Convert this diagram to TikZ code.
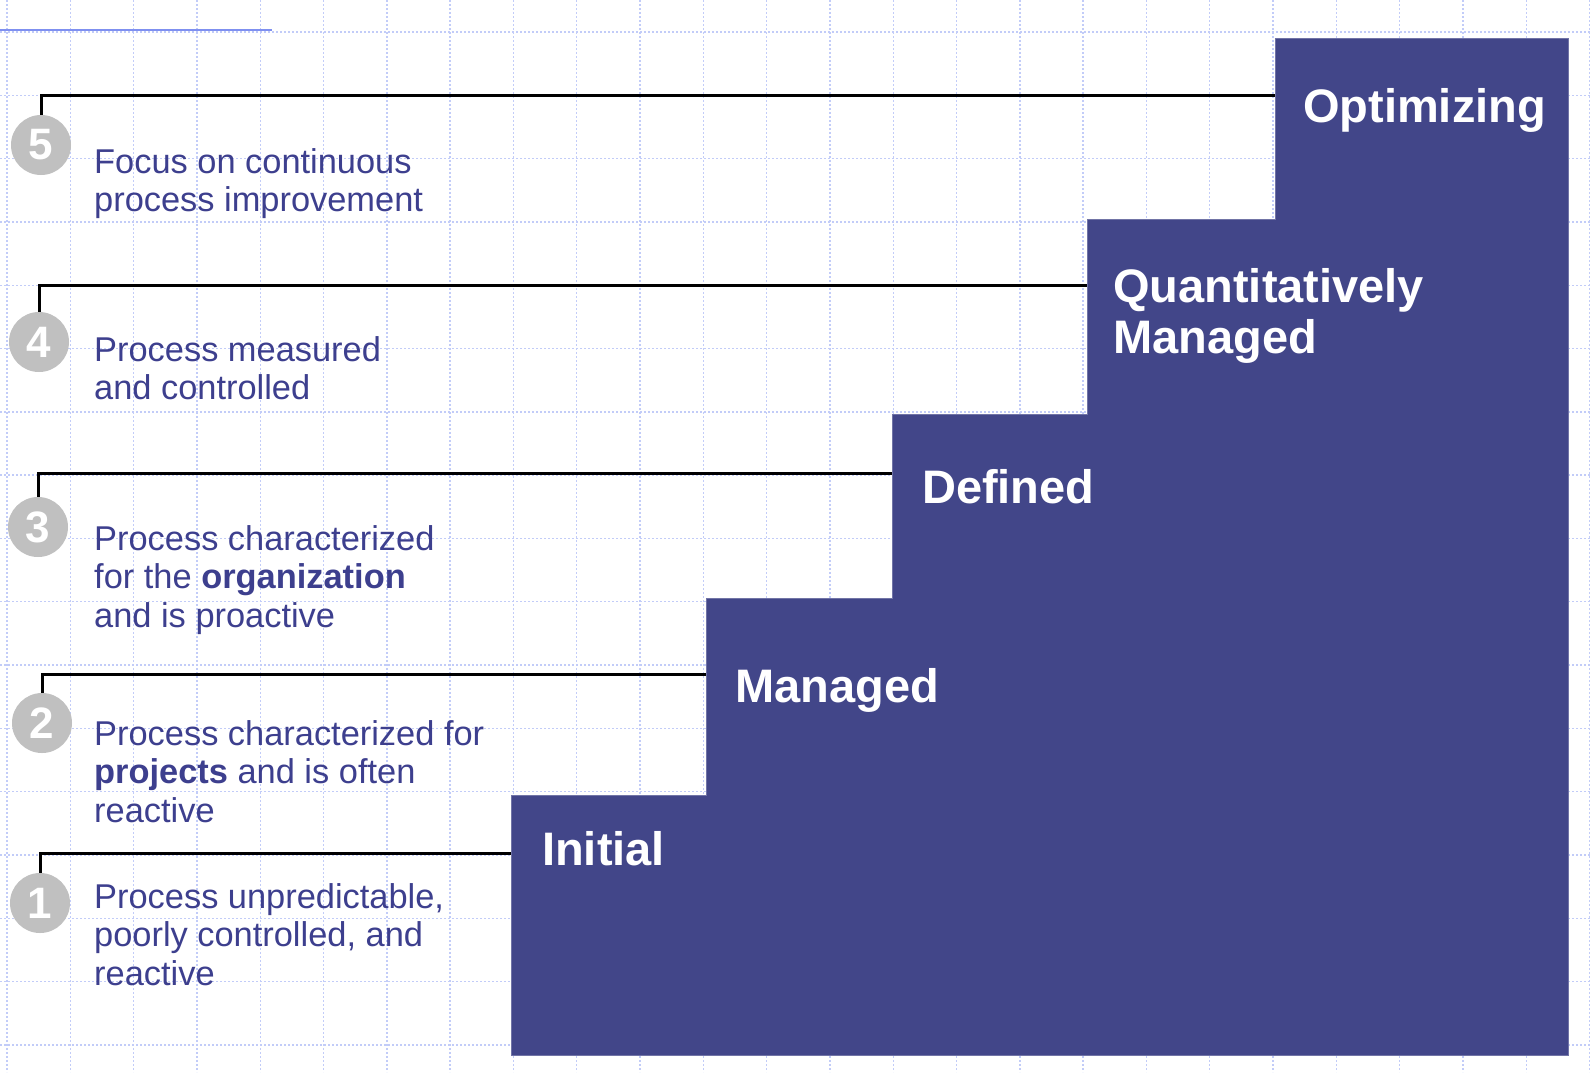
\documentclass[tikz,border=0pt]{standalone}
\usepackage{fontspec}
\setmainfont{Liberation Sans}
\definecolor{stepblue}{HTML}{424689}
\definecolor{textblue}{HTML}{3D3F8E}
\definecolor{gridblue}{HTML}{C2CCF8}
\definecolor{topline}{HTML}{7F90F0}
\definecolor{circgray}{HTML}{C0C0C0}
\tikzset{
  gridline/.style={draw=gridblue, line width=1.4pt, dash pattern=on 2pt off 2pt},
  connector/.style={draw=black, line width=3pt},
  numcircle/.style={circle, fill=circgray, minimum size=60pt, inner sep=0pt,
    text=white, font=\fontsize{44}{44}\selectfont\bfseries},
  desc/.style={anchor=base west, inner sep=0pt, text=textblue},
  steplabel/.style={anchor=base west, inner sep=0pt, text=white,
    font=\fontsize{47}{51}\selectfont\bfseries},
}
\newcommand{\desctext}[1]{\parbox[t]{440pt}{\raggedright\fontsize{34.4}{38.5}\selectfont #1}}
\begin{document}
\begin{tikzpicture}[x=1pt,y=-1pt]
\useasboundingbox (0,0) rectangle (1590,1072);
\fill[white] (0,0) rectangle (1590,1072);
% grid
\foreach \k in {0,...,25} \draw[gridline] ({7+63.3*\k},0) -- ({7+63.3*\k},1072);
\foreach \k in {0,...,16} \draw[gridline] (0,{32+63.3*\k}) -- (1590,{32+63.3*\k});
% top-left blue rule
\draw[topline, line width=2pt] (0,30) -- (272,30);
% staircase
\fill[stepblue, draw=stepblue!75!white, line width=1pt]
  (511,1055) -- (511,795) -- (706,795) -- (706,598) -- (892,598) -- (892,414)
  -- (1087,414) -- (1087,219) -- (1275,219) -- (1275,38) -- (1568,38) -- (1568,1055) -- cycle;
% step labels
\node[steplabel] (opt) at (1303,122) {Optimizing};
\node[steplabel] (qm) at (1113,302) {\parbox[t]{400pt}{\raggedright\fontsize{47}{51}\selectfont\bfseries Quantitatively\\Managed}};
\node[steplabel] (def) at (922,503) {Defined};
\node[steplabel] (man) at (735,702) {Managed};
\node[steplabel] (ini) at (542,865) {Initial};
% step edge points
\coordinate (e5) at (1275,95);
\coordinate (e4) at (1087,285);
\coordinate (e3) at (892,473);
\coordinate (e2) at (706,674);
\coordinate (e1) at (511,853);
% number circles
\node[numcircle] (c5) at (41,145) {5};
\node[numcircle] (c4) at (39,342) {4};
\node[numcircle] (c3) at (38,527) {3};
\node[numcircle] (c2) at (42,723) {2};
\node[numcircle] (c1) at (40,903) {1};
% connectors
\draw[connector] (c5.north) |- (e5);
\draw[connector] (c4.north) |- (e4);
\draw[connector] (c3.north) |- (e3);
\draw[connector] (c2.north) |- (e2);
\draw[connector] (c1.north) |- (e1);
% descriptions
\node[desc] (d5) at (94,173) {\desctext{Focus on continuous\\process improvement}};
\node[desc] (d4) at (94,361) {\desctext{Process measured\\and controlled}};
\node[desc] (d3) at (94,550) {\desctext{Process characterized\\for the \textbf{organization}\\and is proactive}};
\node[desc] (d2) at (94,745) {\desctext{Process characterized for\\\textbf{projects} and is often\\reactive}};
\node[desc] (d1) at (94,908) {\desctext{Process unpredictable,\\poorly controlled, and\\reactive}};
\end{tikzpicture}
\end{document}
